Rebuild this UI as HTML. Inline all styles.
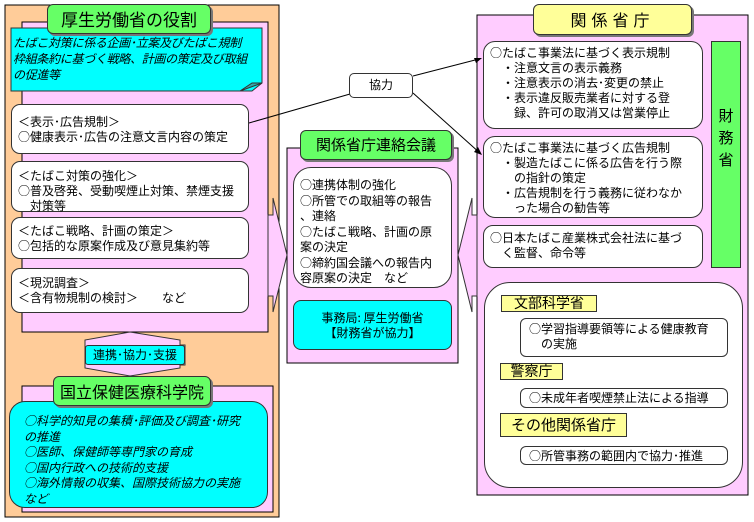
<!DOCTYPE html>
<html><head><meta charset="utf-8"><style>
body{margin:0;width:754px;height:522px;background:#fff;position:relative;overflow:hidden;font-family:"Noto Sans CJK JP","Liberation Sans",sans-serif;font-size:12px;color:#000}
div{position:absolute;box-sizing:border-box;white-space:nowrap}
.w{background:#fff;border:1px solid #333;border-radius:9px;line-height:15px;padding:3px 6px}
.g{background:#66ff66;border:1px solid #333;border-radius:6px;text-align:center;box-shadow:2px 2px 0 #777;font-size:15px}
.y{background:#ffff99;border:1px solid #333;text-align:center;font-size:14px}
</style></head><body>
<svg width="754" height="522" style="position:absolute;left:0;top:0">
<rect x="5" y="5" width="274" height="512" fill="#ffcc99" stroke="#000"/>
<rect x="22" y="22" width="246" height="310" fill="#ffccff" stroke="#000"/>
<rect x="22" y="386" width="251" height="126" fill="#ffccff" stroke="#000"/>
<rect x="287" y="148" width="171" height="215" fill="#ffccff" stroke="#000"/>
<rect x="477" y="15" width="271" height="480" fill="#ffccff" stroke="#000"/>
<polygon points="11,28 262,28 262,83 252,91 11,91" fill="#00ffff" stroke="#333"/>
<polygon points="240,91 252,83 262,83" fill="#33aaaa" stroke="#333"/>
<polygon points="85,345 85,340 130,332 180,340 180,345 185,345 185,365 180,365 180,368 130,376 85,368 85,365" fill="#ffccff" stroke="#333"/>
<polygon points="268,215 273,215 273,198 287,255 273,312 273,296 268,296" fill="#ffccff" stroke="#333"/>
<polygon points="477,215 472,215 472,198 458,255 472,312 472,296 477,296" fill="#ffccff" stroke="#333"/>
<line x1="249" y1="123" x2="350" y2="94" stroke="#000"/>
<line x1="413" y1="76" x2="479" y2="59" stroke="#000"/>
<polygon points="482,58 474,58 476,63" fill="#000"/>
<line x1="413" y1="93" x2="481" y2="154" stroke="#000"/>
<polygon points="482,155 474,152 478,147" fill="#000"/>
</svg>
<div class="g" style="left:47px;top:4px;width:164px;height:30px;line-height:28px;font-size:17px">厚生労働省の役割</div>
<div style="left:13px;top:35px;width:248px;line-height:16px;font-style:italic;font-size:12px;letter-spacing:-0.3px">たばこ対策に係る企画･立案及びたばこ規制<br>枠組条約に基づく戦略、計画の策定及び取組<br>の促進等</div>
<div class="w" style="left:11px;top:104px;width:238px;height:50px;padding-top:9px">＜表示･広告規制＞<br>○健康表示･広告の注意文言内容の策定</div>
<div class="w" style="left:11px;top:161px;width:238px;height:51px;padding-top:6px">＜たばこ対策の強化＞<br>○普及啓発、受動喫煙止対策、禁煙支援<br>　対策等</div>
<div class="w" style="left:11px;top:217px;width:238px;height:42px;padding-top:5px">＜たばこ戦略、計画の策定＞<br>○包括的な原案作成及び意見集約等</div>
<div class="w" style="left:11px;top:268px;width:238px;height:45px;padding-top:6px">＜現況調査＞<br>＜含有物規制の検討＞　　など</div>
<div style="left:85px;top:345px;width:100px;height:20px;background:#00ffff;border:1px solid #333;border-radius:3px;text-align:center;line-height:18px">連携･協力･支援</div>
<div class="w" style="left:9px;top:401px;width:259px;height:107px;background:#00ffff;border-radius:16px;font-style:italic;padding:11px 14px 0 14px;line-height:15.5px">○科学的知見の集積･評価及び調査･研究<br>の推進<br>○医師、保健師等専門家の育成<br>○国内行政への技術的支援<br>○海外情報の収集、国際技術協力の実施<br>など</div>
<div class="g" style="left:53px;top:376px;width:158px;height:30px;line-height:28px;font-size:16px">国立保健医療科学院</div>
<div class="w" style="left:349px;top:73px;width:64px;height:25px;text-align:center;line-height:22px;padding:0;border-radius:5px">協力</div>
<div class="g" style="left:300px;top:130px;width:152px;height:30px;line-height:28px">関係省庁連絡会議</div>
<div class="w" style="left:293px;top:167px;width:159px;height:121px;border-radius:18px;padding:9px 4px 0 6px;line-height:15.5px">○連携体制の強化<br>○所管での取組等の報告<br>、連絡<br>○たばこ戦略、計画の原<br>案の決定<br>○締約国会議への報告内<br>容原案の決定　など</div>
<div class="w" style="left:293px;top:300px;width:159px;height:50px;background:#00ffff;border-radius:8px;text-align:center;padding-top:9px">事務局: 厚生労働省<br>【財務省が協力】</div>
<div class="y" style="left:533px;top:4px;width:159px;height:31px;line-height:29px;border-radius:6px;box-shadow:2px 2px 0 #777;font-size:16px;letter-spacing:5px">関係省庁</div>
<div class="w" style="left:483px;top:41px;width:220px;height:88px;border-radius:12px;padding:3px 6px">○たばこ事業法に基づく表示規制<br>　・注意文言の表示義務<br>　・注意表示の消去･変更の禁止<br>　・表示違反販売業者に対する登<br>　　録、許可の取消又は営業停止</div>
<div class="w" style="left:483px;top:136px;width:220px;height:82px;border-radius:12px;padding:3px 6px">○たばこ事業法に基づく広告規制<br>　・製造たばこに係る広告を行う際<br>　　の指針の策定<br>　・広告規制を行う義務に従わなか<br>　　った場合の勧告等</div>
<div class="w" style="left:483px;top:225px;width:220px;height:43px;border-radius:10px;padding:4px 6px">○日本たばこ産業株式会社法に基づ<br>　く監督、命令等</div>
<div style="left:711px;top:41px;width:30px;height:227px;background:#66ff66;border:1px solid #333;font-size:15px;text-align:center;line-height:22px;padding-top:63px">財<br>務<br>省</div>
<div class="w" style="left:484px;top:282px;width:259px;height:206px;border-radius:26px"></div>
<div class="y" style="left:501px;top:295px;width:96px;height:17px;line-height:15px">文部科学省</div>
<div class="w" style="left:520px;top:318px;width:208px;height:39px;border-radius:6px;padding:2px 8px">○学習指導要領等による健康教育<br>　の実施</div>
<div class="y" style="left:500px;top:363px;width:63px;height:17px;line-height:15px">警察庁</div>
<div class="w" style="left:520px;top:388px;width:208px;height:20px;border-radius:6px;padding:1px 8px">○未成年者喫煙禁止法による指導</div>
<div class="y" style="left:500px;top:413px;width:127px;height:24px;line-height:22px;font-size:15px">その他関係省庁</div>
<div class="w" style="left:520px;top:446px;width:208px;height:19px;border-radius:6px;padding:1px 8px">○所管事務の範囲内で協力･推進</div>
</body></html>
